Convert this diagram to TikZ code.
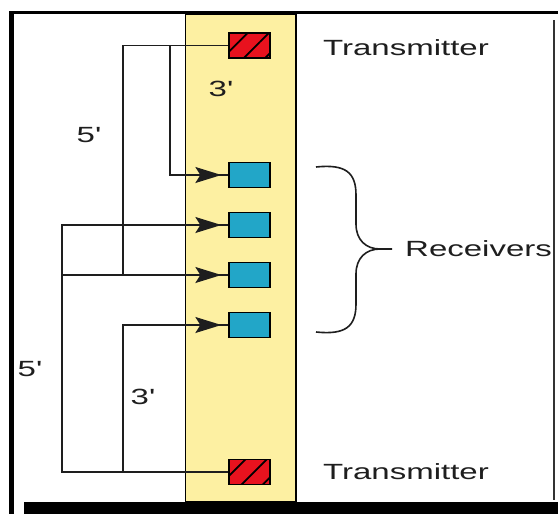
\documentclass[tikz,border=0pt]{standalone}
\usepackage{fontspec}
\setmainfont{Liberation Sans}
\newfontfamily\widefont[FakeStretch=1.5]{Liberation Sans}
\usetikzlibrary{arrows.meta,patterns.meta,calc}
\definecolor{txred}{RGB}{232,18,30}
\definecolor{rxblue}{RGB}{34,166,200}
\definecolor{stripyellow}{RGB}{253,240,162}
\definecolor{inkgray}{RGB}{30,30,30}
\tikzset{
  txbox/.style={draw=black, line width=1.3pt, fill=txred, minimum width=41pt, minimum height=25pt, inner sep=0pt,
    postaction={pattern={Lines[angle=45,distance=15pt,line width=1.8pt]}, pattern color=black}},
  rxbox/.style={draw=black, line width=1.3pt, fill=rxblue, minimum width=41pt, minimum height=25pt, inner sep=0pt},
  lbl/.style={text=inkgray, inner sep=0pt, font=\widefont\fontsize{22}{26}\selectfont},
  conn/.style={draw=inkgray, line width=1.3pt},
  feed/.style={conn, -{Stealth[length=26pt,width=16pt,inset=5pt]}, shorten >=7pt},
}
\begin{document}
\begin{tikzpicture}[x=1pt,y=-1pt]
\useasboundingbox (0,0) rectangle (558,514);
\fill[white] (0,0) rectangle (558,514);
% frame
\fill[black] (9,11) rectangle (558,14);
\fill[black] (9,11) rectangle (14,514);
\fill[black] (24,502) rectangle (558,514);
\draw[line width=1.2pt, black!80] (554,20) -- (554,500);
% strip
\draw[fill=stripyellow, line width=1.5pt] (185.5,14) rectangle (296,502);
% transmitters and receivers
\node[txbox] (T1) at (249.5,45.5) {};
\node[txbox] (T2) at (249.5,472) {};
\node[rxbox] (R1) at (249.5,175) {};
\node[rxbox] (R2) at (249.5,225) {};
\node[rxbox] (R3) at (249.5,275) {};
\node[rxbox] (R4) at (249.5,325) {};
% bend points
\coordinate (a) at (123,45.5);
\coordinate (b) at (170,45.5);
\coordinate (c) at (62,472);
\coordinate (d) at (123,472);
% connectors
\draw[feed] (T1.west) -- (a) |- (R3.west);
\draw[feed] (b) |- (R1.west);
\draw[feed] (T2.west) -- (c) |- (R2.west);
\draw[conn] (c |- R3.west) -- (a |- R3.west);
\draw[feed] (d) |- (R4.west);
\foreach \r in {R1,R2,R3,R4}{
  \draw[conn] ($(\r.west)+(-9,0)$) -- (\r.west);
}
% labels
\node[lbl, anchor=west] (tx1) at (323,48) {Transmitter};
\node[lbl, anchor=west] (tx2) at (323,472) {Transmitter};
\node[lbl, anchor=west] (rcv) at (405,249) {Receivers};
\node[lbl] (l5a) at (88,135) {5\textquotesingle};
\node[lbl] (l3a) at (220,89) {3\textquotesingle};
\node[lbl] (l5b) at (29,369) {5\textquotesingle};
\node[lbl] (l3b) at (142,397) {3\textquotesingle};
% brace
\coordinate (bt) at (316,167);
\coordinate (bb) at (316,332);
\coordinate (bm) at (392,249);
\draw[line width=1.6pt, inkgray] (bt) .. controls (345,164) and (356,172) .. (356,195)
  -- (356,224) .. controls (356,240) and (366,249) .. (380,249) -- (bm);
\draw[line width=1.6pt, inkgray] (bb) .. controls (345,335) and (356,327) .. (356,304)
  -- (356,274) .. controls (356,258) and (366,249) .. (380,249);
\end{tikzpicture}
\end{document}
